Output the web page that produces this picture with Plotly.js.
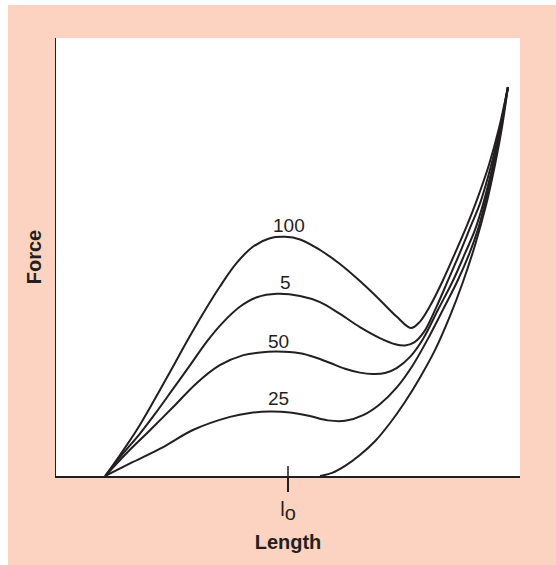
<!DOCTYPE html>
<html>
<head>
<meta charset="utf-8">
<script src="https://cdn.plot.ly/plotly-3.0.1.min.js"></script>
<style>
  html, body { margin: 0; padding: 0; background: #ffffff; width: 556px; height: 565px; overflow: hidden; }
  #chart { position: absolute; left: 8px; top: 5px; width: 548px; height: 560px; }
</style>
</head>
<body>
<div id="chart"></div>
<script>
// Length axis: l_o = 100 ; Force axis: 0..100 (relative units)
const lo = 100;
const tickLabels = ['l<sub><span style="font-size:20px">o</span></sub>'];

const curveNames = ['100', '5', '50', '25', 'passive'];

const len100 = [60.6, 63.8, 67.4, 71.0, 74.6, 78.2, 81.7, 85.3, 88.9, 92.5, 96.1, 99.4, 102.6, 106.9, 111.2, 115.5, 119.8, 123.4, 126.5, 128.4, 130.6, 133.4, 136.0, 138.6, 140.7, 143.3, 145.5, 147.4];
const force100 = [0, 4.8, 10.5, 17.0, 23.8, 30.7, 37.1, 43.2, 48.6, 52.4, 54.3, 54.6, 54.0, 51.6, 48.4, 44.5, 40.2, 36.4, 33.8, 35.2, 38.8, 44.7, 50.9, 57.3, 63.0, 71.0, 79.5, 88.8];

const len5 = [60.6, 64.5, 68.1, 71.7, 75.3, 78.9, 82.5, 86.1, 89.7, 93.3, 97.6, 102.6, 106.9, 111.2, 115.5, 119.8, 123.1, 125.2, 127.2, 129.3, 131.9, 134.5, 137.1, 139.4, 141.4, 143.8, 145.7, 147.4];
const force5 = [0, 5.2, 9.7, 14.7, 20.0, 25.3, 30.7, 35.2, 38.7, 40.8, 41.6, 41.1, 39.7, 37.0, 34.0, 31.5, 30.1, 29.8, 30.5, 32.9, 38.4, 44.7, 51.1, 57.1, 62.3, 71.0, 79.5, 88.8];

const len50 = [60.6, 65.2, 70.3, 75.3, 80.3, 85.3, 90.4, 94.0, 97.6, 102.6, 105.8, 109.1, 112.3, 115.5, 118.3, 120.9, 123.5, 126.3, 129.1, 132.3, 135.6, 138.1, 140.3, 142.0, 144.0, 145.7, 147.4];
const force50 = [0, 5.2, 10.5, 15.8, 21.2, 25.3, 27.6, 28.2, 28.4, 28.0, 27.1, 25.8, 24.5, 23.6, 23.3, 23.5, 24.7, 27.2, 31.3, 37.9, 44.7, 50.7, 56.2, 61.9, 70.3, 79.0, 88.8];

const len25 = [60.6, 66.6, 73.1, 79.5, 87.5, 91.8, 96.1, 100.4, 104.7, 108.6, 112.3, 116.2, 119.8, 123.5, 126.9, 130.6, 133.8, 136.6, 139.2, 140.9, 142.2, 144.2, 145.9, 147.4];
const force25 = [0, 3.2, 6.6, 10.5, 13.5, 14.4, 14.7, 14.5, 13.7, 12.7, 12.6, 13.9, 16.4, 20.3, 25.3, 32.2, 38.8, 44.7, 51.1, 56.2, 61.2, 70.3, 79.5, 88.8];

const lenPassive = [106.9, 109.5, 112.3, 115.5, 118.8, 122.0, 125.2, 128.4, 131.7, 134.9, 137.7, 140.3, 142.7, 144.6, 146.1, 147.4];
const forcePassive = [0, 0.7, 2.3, 4.8, 8.0, 12.1, 16.9, 22.4, 28.8, 36.5, 44.3, 52.7, 61.9, 71.0, 79.5, 88.8];

// curve labels (text and where they sit)
const labelText = ['100', '5', '50', '25'];
const labelLen = [100.2, 99.4, 98.0, 98.0];
const labelForce = [57.3, 44.1, 30.8, 17.6];

const ink = '#231f20';
const seriesX = [len100, len5, len50, len25, lenPassive];
const seriesY = [force100, force5, force50, force25, forcePassive];

const traces = seriesX.map((xs, i) => ({
  type: 'scatter', mode: 'lines', name: curveNames[i],
  x: xs, y: seriesY[i],
  line: { color: ink, width: 2, shape: 'spline', smoothing: 1 },
  hoverinfo: 'skip'
}));

const annotations = labelText.map((t, i) => ({
  x: labelLen[i], y: labelForce[i], xref: 'x', yref: 'y',
  text: t, showarrow: false,
  font: { family: 'Liberation Sans, Arial, sans-serif', size: 19, color: ink }
}));

const layout = {
  width: 548, height: 560,
  margin: { l: 48, r: 36, t: 33, b: 89 },
  paper_bgcolor: '#fcd3c1',
  plot_bgcolor: '#ffffff',
  showlegend: false,
  font: { family: 'Liberation Sans, Arial, sans-serif', color: ink },
  xaxis: {
    range: [50, 150], showgrid: false, zeroline: false,
    showline: true, linecolor: ink, linewidth: 1.5,
    tickmode: 'array', tickvals: [lo], ticktext: tickLabels,
    ticks: 'outside', ticklen: 14, tickwidth: 1.5, tickcolor: ink,
    tickfont: { size: 20, color: ink },
    title: { text: 'Length', standoff: 12, font: { size: 20, weight: 700, color: ink } },
    fixedrange: true
  },
  yaxis: {
    range: [0, 100], showgrid: false, zeroline: false,
    showline: true, linecolor: ink, linewidth: 1.5,
    showticklabels: false, ticks: '',
    title: { text: 'Force', standoff: 7, font: { size: 20, weight: 700, color: ink } },
    fixedrange: true
  },
  shapes: [{
    type: 'line', xref: 'x', yref: 'paper',
    x0: lo, x1: lo, y0: 0, y1: 10 / 438,
    line: { color: ink, width: 1.5 }
  }],
  annotations: annotations
};

Plotly.newPlot('chart', traces, layout, { staticPlot: true, displayModeBar: false });
</script>
</body>
</html>
